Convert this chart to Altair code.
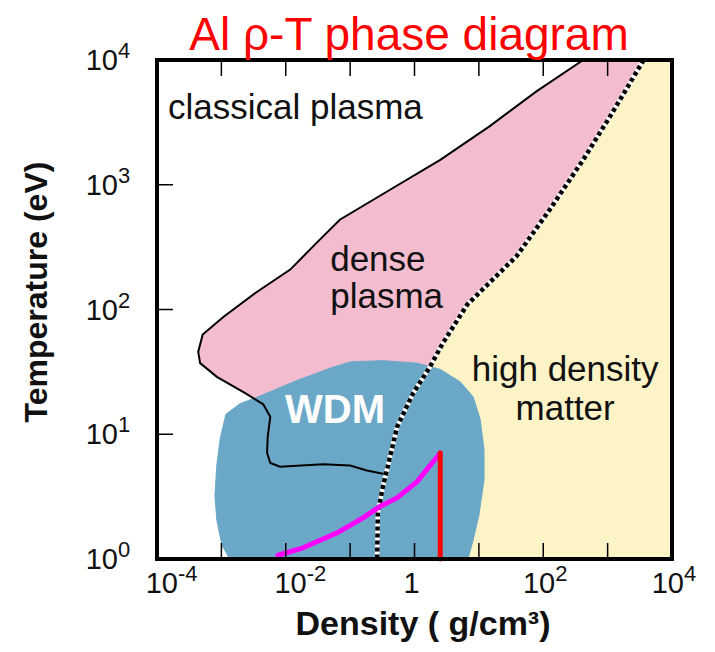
import altair as alt
import pandas as pd

# ---------------- data: log10 density (g/cm3), log10 temperature (eV) ----------------
# boundary classical plasma / dense plasma (solid black line)
classical_logrho = [2.62, 1.90, 1.17, 0.40, -0.38, -1.16, -1.51, -1.93, -2.45, -2.97, -3.29, -3.36,
                    -3.33, -3.07, -2.63, -2.35, -2.24, -2.28, -2.29, -2.24, -2.09, -1.42, -1.00, -0.74, -0.45]
classical_logT = [4.00, 3.75, 3.47, 3.20, 2.96, 2.72, 2.54, 2.32, 2.14, 1.94, 1.80, 1.66,
                  1.57, 1.46, 1.33, 1.24, 1.14, 0.98, 0.85, 0.77, 0.74, 0.76, 0.75, 0.71, 0.68]

# boundary dense plasma / high density matter (dotted line)
dotted_logrho = [3.56, 3.04, 2.62, 2.10, 1.59, 0.82, 0.44, 0.24, -0.02, -0.27, -0.38, -0.49, -0.57, -0.58]
dotted_logT = [4.00, 3.55, 3.20, 2.80, 2.43, 2.04, 1.73, 1.54, 1.33, 1.06, 0.82, 0.58, 0.37, 0.00]

# warm dense matter blob
wdm_logrho = [-2.87, -2.99, -3.07, -3.10, -3.07, -3.02, -2.93, -2.71, -2.43, -1.83, -1.31, -1.00,
              -0.49, 0.04, 0.40, 0.71, 0.91, 1.02, 1.08, 1.08, 1.00, 0.91, 0.83]
wdm_logT = [0.00, 0.11, 0.31, 0.51, 0.755, 0.96, 1.16, 1.245, 1.30, 1.43, 1.53, 1.58,
            1.59, 1.57, 1.52, 1.42, 1.30, 1.12, 0.875, 0.635, 0.35, 0.15, 0.00]

# magenta path and red isochore
path_logrho = [-2.12, -1.73, -1.20, -0.80, -0.54, -0.27, 0.04, 0.40]
path_logT = [0.03, 0.09, 0.21, 0.33, 0.42, 0.49, 0.62, 0.85]
solid_logrho = [0.40, 0.40]
solid_logT = [0.00, 0.85]

# domain corners
domain_logrho = [-4, 4]
domain_logT = [0, 4]

# ticks and labels
x_tick_logs = [-3, -2, -1, 0, 1, 2, 3]
y_tick_logs = [1, 2, 3]
x_label_logs = [-4, -2, 0, 2, 4]
x_label_bases = ["10", "10", "1", "10", "10"]
x_label_sups = ["-4", "-2", "", "2", "4"]
y_label_logs = [0, 1, 2, 3, 4]
y_label_bases = ["10", "10", "10", "10", "10"]
y_label_sups = ["0", "1", "2", "3", "4"]

# region labels
left_texts = ["classical plasma", "dense", "plasma"]
left_text_logrho = [-3.83, -1.31, -1.31]
left_text_logT = [3.53, 2.31, 2.01]
hdm_texts = ["high density", "matter"]
hdm_text_logrho = [2.34, 2.34]
hdm_text_logT = [1.43, 1.115]
wdm_texts = ["WDM"]
wdm_text_logrho = [-2.01]
wdm_text_logT = [1.09]

TITLE = "Al ρ-T phase diagram"
XTITLE = "Density ( g/cm³)"
YTITLE = "Temperature (eV)"

# ---------------- chart ----------------
W, H = 515, 499
FONT = "Liberation Sans"
PINK = "#F3BCCF"
YELLOW = "#FCF3C6"
BLUE = "#6BA8C8"

xs = alt.Scale(type="log", domain=[10.0 ** domain_logrho[0], 10.0 ** domain_logrho[1]])
ys = alt.Scale(type="log", domain=[10.0 ** domain_logT[0], 10.0 ** domain_logT[1]])


def pts(lr, lt, **extra):
    d = {"rho": [10.0 ** v for v in lr], "T": [10.0 ** v for v in lt], "i": list(range(len(lr)))}
    d.update(extra)
    return pd.DataFrame(d)


X = alt.X("rho:Q", scale=xs, axis=None)
Y = alt.Y("T:Q", scale=ys, axis=None)
O = alt.Order("i:Q")

# polygons
pink_lr = classical_logrho + [r for r, t in reversed(list(zip(dotted_logrho, dotted_logT))) if t > classical_logT[-1]]
pink_lt = classical_logT + [t for r, t in reversed(list(zip(dotted_logrho, dotted_logT))) if t > classical_logT[-1]]
yellow_lr = dotted_logrho + [domain_logrho[1], domain_logrho[1]]
yellow_lt = dotted_logT + [domain_logT[0], domain_logT[1]]


def poly(lr, lt, color):
    return alt.Chart(pts(lr, lt)).mark_line(color=color, fill=color, strokeWidth=1).encode(x=X, y=Y, order=O)


yellow = poly(yellow_lr, yellow_lt, YELLOW)
pink = poly(pink_lr, pink_lt, PINK)
blob = poly(wdm_logrho, wdm_logT, BLUE)

classical = alt.Chart(pts(classical_logrho, classical_logT)).mark_line(
    color="black", strokeWidth=2).encode(x=X, y=Y, order=O)
dotted_bg = alt.Chart(pts(dotted_logrho, dotted_logT)).mark_line(
    color="white", strokeWidth=4.5).encode(x=X, y=Y, order=O)
dotted_fg = alt.Chart(pts(dotted_logrho, dotted_logT)).mark_line(
    color="black", strokeWidth=4.5, strokeDash=[4, 3]).encode(x=X, y=Y, order=O)
magenta = alt.Chart(pts(path_logrho, path_logT)).mark_line(
    color="#FF00FF", strokeWidth=5, strokeCap="round", strokeJoin="round").encode(x=X, y=Y, order=O)
red = alt.Chart(pts(solid_logrho, solid_logT)).mark_line(
    color="#FF0000", strokeWidth=5, strokeCap="round").encode(x=X, y=Y, order=O)

# region texts
t_left = alt.Chart(pts(left_text_logrho, left_text_logT, label=left_texts)).mark_text(
    align="left", baseline="alphabetic", font=FONT, fontSize=35, color="#111111").encode(
    x=X, y=Y, text="label:N")
t_hdm = alt.Chart(pts(hdm_text_logrho, hdm_text_logT, label=hdm_texts)).mark_text(
    align="center", baseline="alphabetic", font=FONT, fontSize=35, color="#111111").encode(
    x=X, y=Y, text="label:N")
t_wdm = alt.Chart(pts(wdm_text_logrho, wdm_text_logT, label=wdm_texts)).mark_text(
    align="left", baseline="alphabetic", font=FONT, fontSize=40, fontWeight="bold", color="white").encode(
    x=X, y=Y, text="label:N")

# inward ticks
xt = pd.DataFrame({"rho": [10.0 ** v for v in x_tick_logs]})
yt = pd.DataFrame({"T": [10.0 ** v for v in y_tick_logs]})
tick_bottom = alt.Chart(xt).mark_rule(color="black", strokeWidth=1.5).encode(
    x=X, y=alt.value(H), y2=alt.value(H - 16))
tick_top = alt.Chart(xt).mark_rule(color="black", strokeWidth=1.5).encode(
    x=X, y=alt.value(0), y2=alt.value(16))
tick_left = alt.Chart(yt).mark_rule(color="black", strokeWidth=1.5).encode(
    y=Y, x=alt.value(0), x2=alt.value(16))

frame = alt.Chart(pd.DataFrame({"a": [0]})).mark_rect(
    fillOpacity=0, stroke="black", strokeWidth=4).encode(
    x=alt.value(0), x2=alt.value(W), y=alt.value(0), y2=alt.value(H))

# tick labels: base "10" plus superscript exponent
xl = pd.DataFrame({"rho": [10.0 ** v for v in x_label_logs], "base": x_label_bases, "sup": x_label_sups})
xl_neg = xl[xl["sup"].str.startswith("-")]
xl_pos = xl[(xl["sup"] != "") & (~xl["sup"].str.startswith("-"))]
xl_one = xl[xl["sup"] == ""]

LAB = dict(font=FONT, color="#111111", baseline="alphabetic")


def xlab(df, dx):
    b = alt.Chart(df).mark_text(align="right", dx=dx, fontSize=29, **LAB).encode(
        x=X, y=alt.value(H + 34), text="base:N")
    s = alt.Chart(df).mark_text(align="left", dx=dx, fontSize=22, **LAB).encode(
        x=X, y=alt.value(H + 22), text="sup:N")
    return b + s


x_one = alt.Chart(xl_one).mark_text(align="center", dx=-3, fontSize=29, **LAB).encode(
    x=X, y=alt.value(H + 34), text="base:N")

yl = pd.DataFrame({"T": [10.0 ** v for v in y_label_logs], "base": y_label_bases, "sup": y_label_sups})
y_base = alt.Chart(yl).mark_text(align="right", dy=10, fontSize=29, **LAB).encode(
    y=Y, x=alt.value(-39), text="base:N")
y_sup = alt.Chart(yl).mark_text(align="left", dy=-2, fontSize=22, **LAB).encode(
    y=Y, x=alt.value(-39), text="sup:N")

one = pd.DataFrame({"a": [0]})
title = alt.Chart(one).mark_text(align="center", baseline="alphabetic", font=FONT, fontSize=46,
                                 color="#FF0000", text=TITLE).encode(
    x=alt.value(252), y=alt.value(-10))
xtitle = alt.Chart(one).mark_text(align="center", baseline="alphabetic", font=FONT, fontSize=34,
                                  fontWeight="bold", color="#111111", text=XTITLE).encode(
    x=alt.value(266), y=alt.value(H + 76))
ytitle = alt.Chart(one).mark_text(align="center", baseline="alphabetic", font=FONT, fontSize=32,
                                  fontWeight="bold", color="#111111", angle=270, text=YTITLE).encode(
    x=alt.value(-110), y=alt.value(232))

chart = alt.layer(
    yellow, pink, blob, classical, dotted_bg, dotted_fg, magenta, red,
    t_left, t_hdm, t_wdm,
    tick_bottom, tick_top, tick_left, frame,
    xlab(xl_neg, 21), xlab(xl_pos, 12), x_one, y_base, y_sup,
    title, xtitle, ytitle,
).properties(
    width=W, height=H,
    autosize=alt.AutoSizeParams(type="none"),
    padding={"left": 149, "top": 52, "right": 35, "bottom": 85},
).configure_view(strokeWidth=0)

chart.save("out.html", embed_options={"renderer": "svg", "actions": False})
